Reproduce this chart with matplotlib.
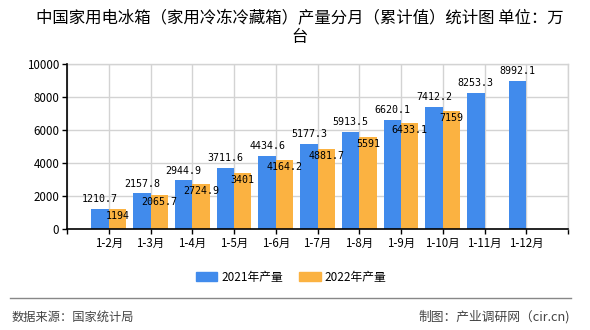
import matplotlib
matplotlib.use("Agg")
import matplotlib.pyplot as plt
from matplotlib.patches import Patch
from matplotlib.lines import Line2D
import numpy as np

plt.rcParams['font.family'] = ['Noto Sans CJK SC', 'DejaVu Sans']

categories = ["1-2月", "1-3月", "1-4月", "1-5月", "1-6月", "1-7月",
              "1-8月", "1-9月", "1-10月", "1-11月", "1-12月"]
output_2021 = [1210.7, 2157.8, 2944.9, 3711.6, 4434.6, 5177.3,
               5913.5, 6620.1, 7412.2, 8253.3, 8992.1]
output_2022 = [1194, 2065.7, 2724.9, 3401, 4164.2, 4881.7,
               5591, 6433.1, 7159]
series_names = ["2021年产量", "2022年产量"]
y_ticks = [0, 2000, 4000, 6000, 8000, 10000]

title = "中国家用电冰箱（家用冷冻冷藏箱）产量分月（累计值）统计图 单位：万\n台"
source_text = "数据来源：国家统计局"
credit_text = "制图：产业调研网（cir.cn)"

blue = "#418BEC"
orange = "#FBB241"
grid_col = "#D3D3D3"

fig = plt.figure(figsize=(5.9, 3.3), dpi=100)
ax = fig.add_axes([67 / 590, 1 - 229 / 330, (568 - 67) / 590, (229 - 64.3) / 330])

x = np.arange(len(categories))
w = 0.415
b1 = ax.bar(x[:len(output_2021)] - w / 2, output_2021, width=w, color=blue, zorder=3)
b2 = ax.bar(x[:len(output_2022)] + w / 2, output_2022, width=w, color=orange, zorder=3)

mono = "DejaVu Sans Mono"
for rect, v in zip(b1, output_2021):
    ax.annotate(f"{v:g}", (rect.get_x() + rect.get_width() / 2, v),
                xytext=(0, 3.5), textcoords="offset points",
                ha="center", va="bottom", fontsize=7.2, family=mono, zorder=5)
for rect, v in zip(b2, output_2022):
    ax.annotate(f"{v:g}", (rect.get_x() + rect.get_width() / 2, v),
                xytext=(0, -1.5), textcoords="offset points",
                ha="center", va="top", fontsize=7.2, family=mono, zorder=5)

ax.set_xlim(-1, len(categories))
ax.set_ylim(0, 10000)
ax.set_yticks(y_ticks)
ax.set_yticklabels([str(t) for t in y_ticks], fontsize=8.3)

tick_pos = np.arange(-1, len(categories) + 1)
ax.set_xticks(tick_pos)
ax.set_xticklabels([""] + categories + [""], fontsize=8.3)

ax.grid(True, color=grid_col, linewidth=1, zorder=0)
ax.set_axisbelow(True)
for side in ("top", "right"):
    ax.spines[side].set_color(grid_col)
    ax.spines[side].set_linewidth(1)
for side in ("left", "bottom"):
    ax.spines[side].set_color("black")
    ax.spines[side].set_linewidth(1.2)
    ax.spines[side].set_zorder(4)
ax.tick_params(axis="both", length=3.5, width=1, color="black", pad=2)

fig.text(0.508, 1 - 28 / 330, title, ha="center", va="center",
         fontsize=11.8, multialignment="center", linespacing=1.2)

handles = [Patch(color=blue), Patch(color=orange)]
fig.legend(handles, series_names, loc="center", bbox_to_anchor=(291 / 590, 1 - 277 / 330),
           ncol=2, frameon=False, fontsize=8.5, handlelength=1.85, handleheight=0.75,
           handletextpad=0.35, columnspacing=1.3)

fig.add_artist(Line2D([10 / 590, 571 / 590], [1 - 298 / 330] * 2,
                      color="#888888", linewidth=1, transform=fig.transFigure))
fig.text(12 / 590, 1 - 317 / 330, source_text, ha="left", va="center",
         fontsize=8.8, color="#444444")
fig.text(570 / 590, 1 - 317 / 330, credit_text, ha="right", va="center",
         fontsize=9.2, color="#444444")

fig.savefig("out.png", dpi=100)
